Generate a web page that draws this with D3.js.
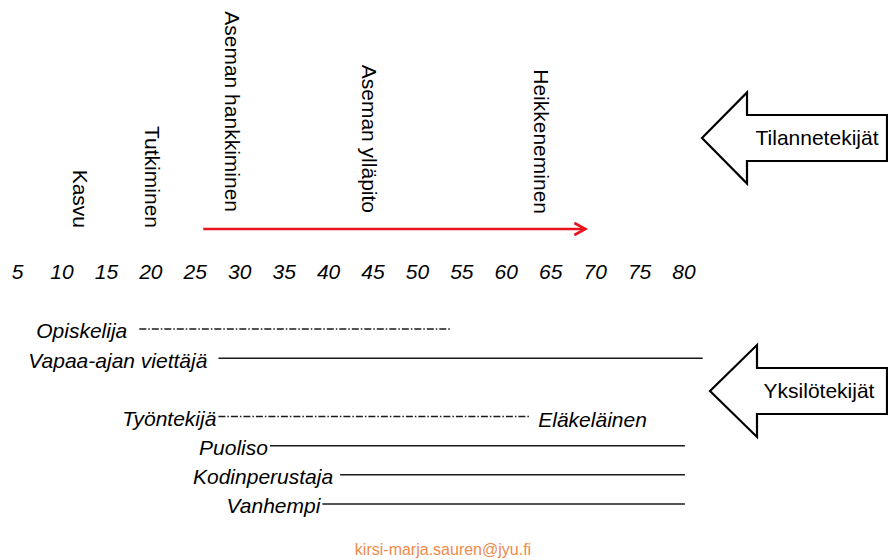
<!DOCTYPE html>
<html>
<head>
<meta charset="utf-8">
<script src="https://cdn.jsdelivr.net/npm/d3@7"></script>
<style>
  body { margin: 0; background: #fff; }
  svg { display: block; font-family: "Liberation Sans", Arial, sans-serif; }
</style>
</head>
<body>
<svg id="chart"></svg>
<script>
// age axis ticks
var tickAges = [5, 10, 15, 20, 25, 30, 35, 40, 45, 50, 55, 60, 65, 70, 75, 80];

// career phases (vertical labels) and the age where each sits
var phaseNames = ['Kasvu', 'Tutkiminen', 'Aseman hankkiminen', 'Aseman ylläpito', 'Heikkeneminen'];
var phaseAges = [12.1, 20.2, 29.2, 44.6, 64];

// red time arrow
var arrowSpan = [25.9, 68.9];

// life roles
var roleNames = ['Opiskelija', 'Vapaa-ajan viettäjä', 'Työntekijä', 'Puoliso', 'Kodinperustaja', 'Vanhempi'];
var roleRows = [0, 1, 3, 4, 5, 6];
var roleStart = [18.7, 27.6, 27.6, 33.4, 41.3, 39.3];
var roleEnd = [53.7, 82.1, 62.7, 80.1, 80.1, 80.1];
var roleDashed = [true, false, true, false, false, false];

// side arrows
var sideLabels = ['Tilannetekijät', 'Yksilötekijät'];

var width = 888, height = 560;
var svg = d3.select('#chart').attr('width', width).attr('height', height);

var x = d3.scaleLinear().domain([10, 80]).range([62, 684]);
var rowY = d3.scaleLinear().domain([0, 6]).range([329, 504]);

// tick labels
svg.append('g')
    .selectAll('text')
    .data(tickAges)
    .enter().append('text')
    .attr('x', function(d) { return x(d); })
    .attr('y', 272)
    .attr('dy', '0.35em')
    .attr('text-anchor', 'middle')
    .style('font-size', '21px')
    .style('font-style', 'italic')
    .text(function(d) { return d; });

// phase labels, rotated to read top to bottom
var phaseEndY = [228, 228, 212, 213, 214];
svg.append('g')
    .selectAll('text')
    .data(phaseNames)
    .enter().append('text')
    .attr('transform', function(d, i) {
        return 'translate(' + x(phaseAges[i]) + ',' + phaseEndY[i] + ') rotate(90)';
    })
    .attr('dy', '0.35em')
    .attr('text-anchor', 'end')
    .style('font-size', '21px')
    .text(function(d) { return d; });

// red arrow
var ay = 229;
var red = svg.append('g').attr('stroke', '#e8141b').attr('stroke-width', 2.6).attr('fill', 'none');
red.append('line')
    .attr('x1', x(arrowSpan[0])).attr('x2', x(arrowSpan[1]))
    .attr('y1', ay).attr('y2', ay);
red.append('path')
    .attr('d', d3.line()([[x(arrowSpan[1]) - 11, ay - 6], [x(arrowSpan[1]), ay], [x(arrowSpan[1]) - 11, ay + 6]]));

// role lines
var labelGap = [12, 11, 2, 2, 7, 2];
var roles = svg.append('g');
roles.selectAll('line')
    .data(roleNames)
    .enter().append('line')
    .attr('x1', function(d, i) { return x(roleStart[i]); })
    .attr('x2', function(d, i) { return x(roleEnd[i]); })
    .attr('y1', function(d, i) { return rowY(roleRows[i]); })
    .attr('y2', function(d, i) { return rowY(roleRows[i]); })
    .attr('stroke', '#1a1a1a')
    .attr('stroke-width', 1.5)
    .attr('stroke-dasharray', function(d, i) { return roleDashed[i] ? '7,2,1.5,2' : null; });

roles.selectAll('text')
    .data(roleNames)
    .enter().append('text')
    .attr('x', function(d, i) { return x(roleStart[i]) - labelGap[i]; })
    .attr('y', function(d, i) { return rowY(roleRows[i]) + 2; })
    .attr('dy', '0.35em')
    .attr('text-anchor', 'end')
    .style('font-size', '21px')
    .style('font-style', 'italic')
    .text(function(d) { return d; });

// retiree label after the worker line
roles.append('text')
    .attr('x', x(roleEnd[2]) + 8)
    .attr('y', rowY(roleRows[2]) + 3)
    .attr('dy', '0.35em')
    .style('font-size', '21px')
    .style('font-style', 'italic')
    .text('Eläkeläinen');

// block arrows pointing left
var blockArrows = [
    { tip: 702, cy: 138, base: 747, head: 45.5, shaft: 23, textX: 817 },
    { tip: 710, cy: 391, base: 757, head: 46, shaft: 23, textX: 819 }
];
var arrowG = svg.append('g').selectAll('g')
    .data(blockArrows)
    .enter().append('g');
arrowG.append('path')
    .attr('d', function(a) {
        return d3.line()([
            [a.tip, a.cy],
            [a.base, a.cy - a.head],
            [a.base, a.cy - a.shaft],
            [887, a.cy - a.shaft],
            [887, a.cy + a.shaft],
            [a.base, a.cy + a.shaft],
            [a.base, a.cy + a.head]
        ]) + 'Z';
    })
    .attr('fill', '#fff')
    .attr('stroke', '#000')
    .attr('stroke-width', 2.2)
    .attr('stroke-linejoin', 'miter');
arrowG.append('text')
    .attr('x', function(a) { return a.textX; })
    .attr('y', function(a) { return a.cy; })
    .attr('dy', '0.35em')
    .attr('text-anchor', 'middle')
    .style('font-size', '21px')
    .text(function(a, i) { return sideLabels[i]; });

// footer
svg.append('text')
    .attr('x', 443)
    .attr('y', 549)
    .attr('dy', '0.35em')
    .attr('text-anchor', 'middle')
    .attr('fill', '#ef8a4c')
    .style('font-size', '16px')
    .text('kirsi-marja.sauren@jyu.fi');
</script>
</body>
</html>
